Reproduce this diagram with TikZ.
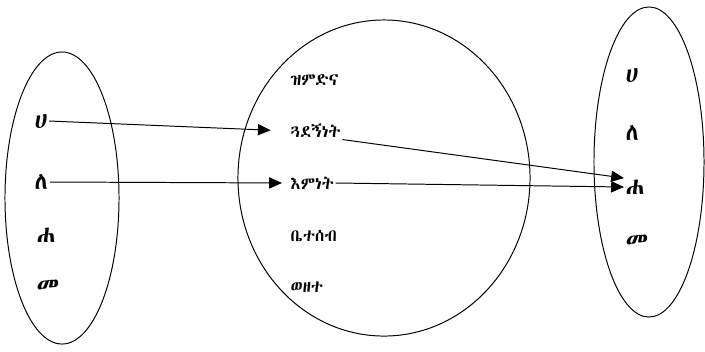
\documentclass[tikz,border=0pt]{standalone}
\usepackage{fontspec}
\IfFontExistsTF{Abyssinica SIL}
  {\newfontfamily\ethfont{Abyssinica SIL}}
  {\IfFontExistsTF{FreeSerif}
    {\newfontfamily\ethfont{FreeSerif}}
    {\newfontfamily\ethfont{DejaVu Sans}}}
\usepackage{tikz}
\usetikzlibrary{positioning, arrows.meta, shapes.geometric}

\begin{document}
\begin{tikzpicture}[
    x=0.025cm, y=-0.025cm,
    setbox/.style={
        ellipse,
        draw=black,
        line width=0.7pt,
        inner sep=0pt
    },
    letter/.style={
        anchor=west,
        inner sep=1pt,
        font=\ethfont\fontsize{17}{19}\selectfont
    },
    word/.style={
        anchor=west,
        inner sep=1pt,
        font=\ethfont\fontsize{12}{14}\selectfont
    },
    maparrow/.style={-{Triangle[length=3.2mm, width=2.8mm]}, line width=0.7pt, draw=black}
]
\useasboundingbox (0,0) rectangle (705,351);

% the three sets
\node[setbox, minimum width=2.85cm, minimum height=7.3cm] (leftset) at (62,198) {};
\node[setbox, minimum width=7.3cm, minimum height=7.9cm] (midset) at (384,178) {};
\node[setbox, minimum width=2.75cm, minimum height=7.75cm] (rightset) at (649,162) {};

% left letters
\node[letter] (l1) at (33,121) {ሀ};
\node[letter] (l2) at (33,182) {ለ};
\node[letter] (l3) at (35,235) {ሐ};
\node[letter] (l4) at (35,287) {መ};

% middle words
\node[word] (m1) at (289,80) {ዝምድና};
\node[word] (m2) at (289,131) {ጓደኝነት};
\node[word] (m3) at (289,183) {እምነት};
\node[word] (m4) at (289,236) {ቤተሰብ};
\node[word] (m5) at (289,287) {ወዘተ};

% right letters
\node[letter] (r1) at (624,75) {ሀ};
\node[letter] (r2) at (624,133) {ለ};
\node[letter] (r3) at (624,187) {ሐ};
\node[letter] (r4) at (624,242) {መ};

\draw[maparrow, shorten >=13pt] (l1.east) -- (m2.west);
\draw[maparrow, shorten >=5pt] (l2.east) -- (m3.west);
\draw[maparrow] (m2.south east) -- (r3.north west);
\draw[maparrow] (m3.east) -- (r3.west);

\end{tikzpicture}
\end{document}
